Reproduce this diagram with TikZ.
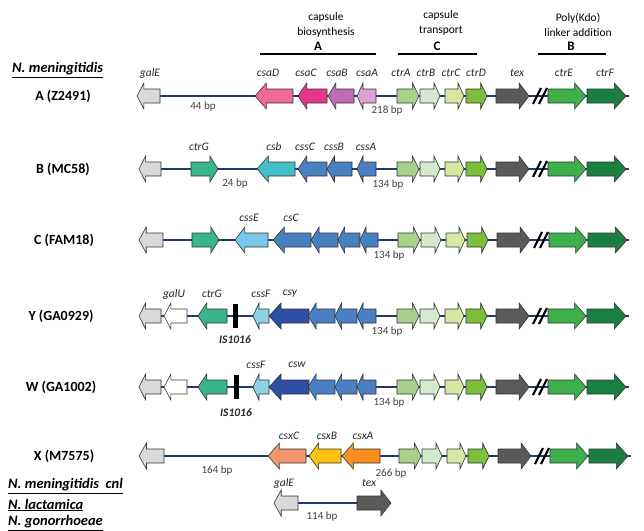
\documentclass[tikz,border=0pt]{standalone}
\usepackage{fontspec}
\setmainfont{Carlito}
\definecolor{bb}{HTML}{1F3A6E}
\definecolor{cgal}{HTML}{D9D9D9}
\definecolor{csaD}{HTML}{EF6A9B}
\definecolor{csaC}{HTML}{E4378D}
\definecolor{csaB}{HTML}{BF6DB4}
\definecolor{csaA}{HTML}{DAA2D2}
\definecolor{cA}{HTML}{A8D08D}
\definecolor{cB}{HTML}{D5E8D0}
\definecolor{cC}{HTML}{D6E6A3}
\definecolor{cD}{HTML}{7DBE3C}
\definecolor{ctex}{HTML}{5A5A5A}
\definecolor{cE}{HTML}{3DB04B}
\definecolor{cF}{HTML}{1A7F40}
\definecolor{cG}{HTML}{3AB48C}
\definecolor{ccsb}{HTML}{44BEC6}
\definecolor{css}{HTML}{4A7FC1}
\definecolor{cssE}{HTML}{79C6EE}
\definecolor{cssF}{HTML}{8CD2E0}
\definecolor{cdark}{HTML}{2F4EA5}
\definecolor{csxC}{HTML}{F5956B}
\definecolor{csxB}{HTML}{FFC20E}
\definecolor{csxA}{HTML}{F7901E}
\tikzset{
 gene/.style={draw=black!80, line width=0.6pt, line join=miter},
 backbone/.style={draw=bb, line width=1.1pt},
 glab/.style={font=\fontsize{11.5}{13}\selectfont\itshape, text=black!85, inner sep=0pt},
 bplab/.style={font=\fontsize{11}{13}\selectfont, text=black!75, inner sep=0pt},
 rowlab/.style={font=\fontsize{14}{16}\selectfont\bfseries, inner sep=0pt},
 spec/.style={font=\fontsize{14.5}{16}\selectfont\bfseries\itshape, inner sep=0pt, anchor=west},
 headtxt/.style={font=\fontsize{11.5}{14.5}\selectfont, inner sep=0pt, align=center},
 barlab/.style={font=\fontsize{13}{15}\selectfont\bfseries, inner sep=0pt},
 groupbar/.style={draw=black, line width=1.4pt},
 brk/.style={draw=black, line width=2.2pt},
 isel/.style={fill=black, draw=none},
 islab/.style={font=\fontsize{11.5}{13}\selectfont\bfseries\itshape, text=black!85, inner sep=0pt},
}
% right-pointing gene: x1, x2 (tip), y, colour
\newcommand{\gR}[4]{\pgfmathsetmacro\hl{max(6,0.3*((#2)-(#1)))}%
 \draw[gene,fill=#4] (#1,#3-7) -- ({#2-\hl},#3-7) -- ({#2-\hl},#3-13) -- (#2,#3) -- ({#2-\hl},#3+13) -- ({#2-\hl},#3+7) -- (#1,#3+7) -- cycle;}
% left-pointing gene: x1 (tip), x2, y, colour
\newcommand{\gL}[4]{\pgfmathsetmacro\hl{max(6,0.3*((#2)-(#1)))}%
 \draw[gene,fill=#4] (#2,#3-7) -- ({#1+\hl},#3-7) -- ({#1+\hl},#3-13) -- (#1,#3) -- ({#1+\hl},#3+13) -- ({#1+\hl},#3+7) -- (#2,#3+7) -- cycle;}
% ctr block: y, dx
\newcommand{\ctrrow}[2]{%
 \gR{397+#2}{419+#2}{#1}{cA}
 \gR{420+#2}{440+#2}{#1}{cB}
 \gR{445+#2}{464+#2}{#1}{cC}
 \gR{466+#2}{487+#2}{#1}{cD}
 \gR{496+#2}{529+#2}{#1}{ctex}
 \draw[brk] (533+#2,#1+8) -- (541+#2,#1-8);
 \draw[brk] (539+#2,#1+8) -- (547+#2,#1-8);
 \gR{548+#2}{586+#2}{#1}{cE}
 \gR{587+#2}{626+#2}{#1}{cF}}
\begin{document}
\begin{tikzpicture}[x=1pt,y=-1pt]
\useasboundingbox (0,0) rectangle (644,530);
% headings
\node[headtxt] (h1) at (326,25) {capsule\\biosynthesis};
\node[headtxt] (h2) at (441,23) {capsule\\transport};
\node[headtxt] (h3) at (578,25) {Poly(Kdo)\\linker addition};
\coordinate (bA1) at (260,54); \coordinate (bA2) at (376,54);
\coordinate (bC1) at (398,54); \coordinate (bC2) at (477,54);
\coordinate (bB1) at (538,54); \coordinate (bB2) at (606,54);
\draw[groupbar] (bA1) -- (bA2);
\draw[groupbar] (bC1) -- (bC2);
\draw[groupbar] (bB1) -- (bB2);
\node[barlab] (lA) at (318,46) {A};
\node[barlab] (lC) at (437,46) {C};
\node[barlab] (lB) at (571,46) {B};
\node[spec] (nm) at (12,70) {\underline{N. meningitidis}};
% ---------- row A
\coordinate (a0) at (155,96); \coordinate (a1) at (629,96);
\draw[backbone] (a0) -- (a1);
\gL{137}{160}{96}{cgal}
\gL{255}{293}{96}{csaD}
\gL{298}{327}{96}{csaC}
\gL{328}{354}{96}{csaB}
\gL{357}{376}{96}{csaA}
\ctrrow{96}{0}
\node[rowlab] (rA) at (63,96) {A (Z2491)};
\foreach \n/\x/\t in {ag/150/galE, a1/268/csaD, a2/306/csaC, a3/337/csaB, a4/367/csaA, a5/401/ctrA, a6/426/ctrB, a7/451/ctrC, a8/476/ctrD, a9/517/tex, a10/564/ctrE, a11/605/ctrF}
  \node[glab] (la\n) at (\x,73) {\t};
\node[bplab] (abp1) at (203,107) {44 bp};
\node[bplab] (abp2) at (387,111) {218 bp};
% ---------- row B
\coordinate (b0) at (155,169); \coordinate (b1) at (629,169);
\draw[backbone] (b0) -- (b1);
\gL{139}{161}{169}{cgal}
\gR{191}{218}{169}{cG}
\gL{257}{295}{169}{ccsb}
\gL{298}{327}{169}{css}
\gL{327}{352}{169}{css}
\gL{357}{376}{169}{css}
\ctrrow{169}{0}
\node[rowlab] (rB) at (63,169) {B (MC58)};
\foreach \n/\x/\t in {b1/199/ctrG, b2/274/csb, b3/305/cssC, b4/334/cssB, b5/366/cssA}
  \node[glab] (l\n) at (\x,147) {\t};
\node[bplab] (bbp1) at (235,184) {24 bp};
\node[bplab] (bbp2) at (388,185) {134 bp};
% ---------- row C
\coordinate (c0) at (155,240); \coordinate (c1) at (629,240);
\draw[backbone] (c0) -- (c1);
\gL{139}{163}{240}{cgal}
\gR{192}{219}{240}{cG}
\gL{235}{268}{240}{cssE}
\gL{273}{311}{240}{css}
\gL{311}{338}{240}{css}
\gL{338}{360}{240}{css}
\gL{360}{378}{240}{css}
\ctrrow{240}{1}
\node[rowlab] (rC) at (64,240) {C (FAM18)};
\node[glab] (lc1) at (249,218) {cssE};
\node[glab] (lc2) at (291,218) {csC};
\node[bplab] (cbp) at (389,256) {134 bp};
% ---------- row Y
\coordinate (y0) at (155,316); \coordinate (y1) at (629,316);
\draw[backbone] (y0) -- (y1);
\gL{139}{161}{316}{cgal}
\gL{164}{187}{316}{white}
\gL{198}{227}{316}{cG}
\fill[isel] (232.5,304) rectangle (237.5,328);
\gL{253}{269}{316}{cssF}
\gL{269}{309}{316}{cdark}
\gL{308}{335}{316}{css}
\gL{335}{357}{316}{css}
\gL{357}{376}{316}{css}
\ctrrow{316}{0}
\node[rowlab] (rY) at (61,316) {Y (GA0929)};
\node[glab] (ly1) at (174,294) {galU};
\node[glab] (ly2) at (212,294) {ctrG};
\node[glab] (ly3) at (261,294) {cssF};
\node[glab] (ly4) at (290,294) {csy};
\node[islab] (lyis) at (235,340) {IS1016};
\node[bplab] (ybp) at (387,332) {134 bp};
% ---------- row W
\coordinate (w0) at (155,387); \coordinate (w1) at (629,387);
\draw[backbone] (w0) -- (w1);
\gL{139}{161}{387}{cgal}
\gL{164}{187}{387}{white}
\gL{198}{227}{387}{cG}
\fill[isel] (233.5,375) rectangle (238.5,399);
\gL{253}{269}{387}{cssF}
\gL{269}{309}{387}{cdark}
\gL{308}{335}{387}{css}
\gL{335}{357}{387}{css}
\gL{357}{376}{387}{css}
\ctrrow{387}{0}
\node[rowlab] (rW) at (61,387) {W (GA1002)};
\node[glab] (lw1) at (256,365) {cssF};
\node[glab] (lw2) at (297,365) {csw};
\node[islab] (lwis) at (236,413) {IS1016};
\node[bplab] (wbp) at (389,403) {134 bp};
% ---------- row X
\coordinate (x0) at (155,456); \coordinate (x1) at (631,456);
\draw[backbone] (x0) -- (x1);
\gL{139}{164}{456}{cgal}
\gL{268}{306}{456}{csxC}
\gL{309}{341}{456}{csxB}
\gL{342}{380}{456}{csxA}
\ctrrow{456}{2}
\node[rowlab] (rX) at (64,456) {X (M7575)};
\node[glab] (lx1) at (289,436) {csxC};
\node[glab] (lx2) at (327,436) {csxB};
\node[glab] (lx3) at (363,436) {csxA};
\node[bplab] (xbp1) at (217,471) {164 bp};
\node[bplab] (xbp2) at (391,474) {266 bp};
% ---------- bottom
\node[spec] (s1) at (8,486) {\underline{N. meningitidis\ \ cnl}};
\node[spec] (s2) at (8,505) {\underline{N. lactamica}};
\node[spec] (s3) at (8,523) {\underline{N. gonorrhoeae}};
\coordinate (z0) at (296,503); \coordinate (z1) at (359,503);
\draw[backbone] (z0) -- (z1);
\gL{274}{298}{503}{cgal}
\gR{357}{391}{503}{ctex}
\node[glab] (lz1) at (284,483) {galE};
\node[glab] (lz2) at (369,483) {tex};
\node[bplab] (zbp) at (322,517) {114 bp};
\end{tikzpicture}
\end{document}
